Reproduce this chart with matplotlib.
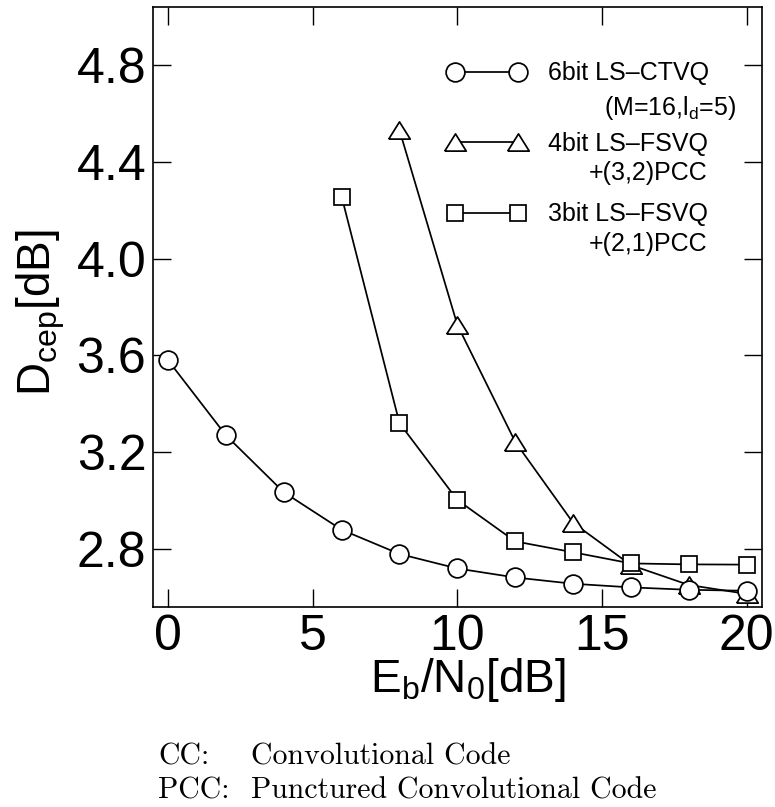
import matplotlib
matplotlib.use("Agg")
import matplotlib.pyplot as plt
import numpy as np

# ---- data ----
ebn0 = [0, 2, 4, 6, 8, 10, 12, 14, 16, 18, 20]
ctvq6 = [3.58, 3.27, 3.035, 2.88, 2.78, 2.72, 2.683, 2.657, 2.642, 2.632, 2.628]
fsvq4_x = [8, 10, 12, 14, 16, 18, 20]
fsvq4 = [4.53, 3.726, 3.243, 2.909, 2.734, 2.652, 2.615]
fsvq3_x = [6, 8, 10, 12, 14, 16, 18, 20]
fsvq3 = [4.256, 3.32, 3.003, 2.832, 2.787, 2.741, 2.737, 2.736]

labels_l1 = ["6bit LS\u2013CTVQ", "4bit LS\u2013FSVQ", "3bit LS\u2013FSVQ"]
labels_l2 = ["(M=16,l$_\\mathrm{d}$=5)", "+(3,2)PCC", "+(2,1)PCC"]
xticks = [0, 5, 10, 15, 20]
yticks = [2.8, 3.2, 3.6, 4.0, 4.4, 4.8]
notes_key = ["CC:", "PCC:"]
notes_val = ["Convolutional Code", "Punctured Convolutional Code"]

plt.rcParams['font.family'] = ['Liberation Sans', 'DejaVu Sans']
plt.rcParams['mathtext.fontset'] = 'custom'
plt.rcParams['mathtext.rm'] = 'Liberation Sans'
plt.rcParams['mathtext.it'] = 'Liberation Sans'
plt.rcParams['mathtext.bf'] = 'Liberation Sans'

fig = plt.figure(figsize=(7.75, 8.07), dpi=100)
ax = fig.add_axes([153.3/775, 1-607/807, (761.7-153.3)/775, (607-6.7)/807])

tri = [(-1, -0.8), (1, -0.8), (0, 0.8), (-1, -0.8)]
lw = 1.25
mew = 1.25
l1, = ax.plot(ebn0, ctvq6, '-', color='black', lw=lw, marker='o', ms=13.5,
              mfc='white', mec='black', mew=mew, zorder=3)
l2, = ax.plot(fsvq4_x, fsvq4, '-', color='black', lw=lw, marker=tri, ms=15.5,
              mfc='white', mec='black', mew=mew, zorder=2, clip_on=False)
l3, = ax.plot(fsvq3_x, fsvq3, '-', color='black', lw=lw, marker='s', ms=11.3,
              mfc='white', mec='black', mew=mew, zorder=2)

ax.set_xlim(-0.51, 20.52)
ax.set_ylim(2.561, 5.04)
ax.set_xticks(xticks)
ax.set_xticklabels([str(v) for v in xticks])
ax.set_yticks(yticks)
ax.set_yticklabels(["%.1f" % v for v in yticks])
ax.tick_params(direction='in', length=13, width=1.0, labelsize=36, pad=5,
               top=True, right=True, colors='black')
for s in ax.spines.values():
    s.set_linewidth(1.2)

ax.set_xlabel("E$_\\mathrm{b}$/N$_\\mathrm{0}$[dB]", fontsize=33)
ax.set_ylabel("D$_\\mathrm{cep}$[dB]", fontsize=33)
ax.xaxis.set_label_coords(0.517, -0.082)
ax.yaxis.set_label_coords(-0.142, 0.49)

leg = ax.legend([l1, l2, l3], labels_l1, loc='upper left',
                bbox_to_anchor=(0.4836, 0.909), frameon=False, fontsize=18,
                numpoints=2, handlelength=3.1, handletextpad=0.9,
                borderpad=0, borderaxespad=0, labelspacing=1.86)
offs = [(20, -6), (0, -4), (0, -4)]
for t, txt, o in zip(leg.get_texts(), labels_l2, offs):
    ax.annotate(txt, xy=(1, 0), xycoords=t, xytext=o,
                textcoords='offset points', ha='right', va='top', fontsize=18,
                zorder=10)

for k, (key, val) in enumerate(zip(notes_key, notes_val)):
    yy = 1 - (757 + 34 * k) / 807
    fig.text(158/775, yy, key, family='cmr10', fontsize=21.5, va='center')
    fig.text(251/775, yy, val, family='cmr10', fontsize=21.5, va='center')

fig.savefig("out.png", dpi=100)
